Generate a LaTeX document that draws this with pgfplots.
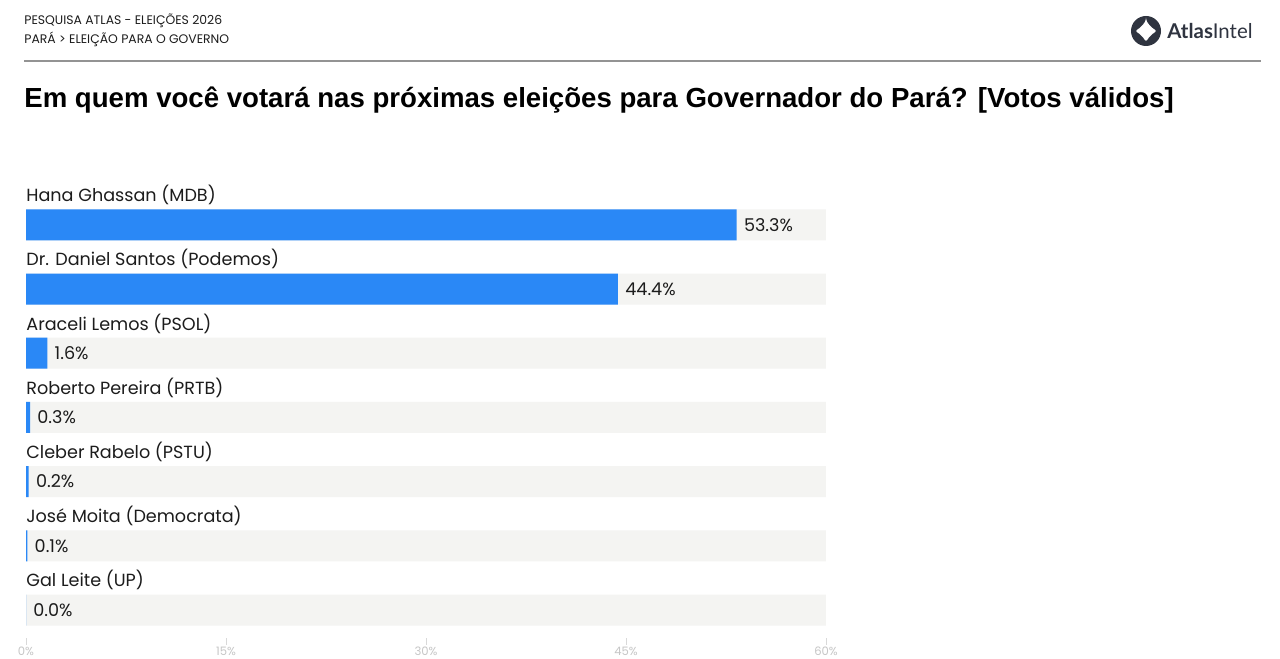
\documentclass[border=0pt]{standalone}
\usepackage{fontspec}
\setmainfont{Poppins}
\newfontfamily\titlefont{Liberation Sans}
\newfontfamily\logofont{Lato}
\usepackage{pgfplots}
\pgfplotsset{compat=1.18}
\usepackage{pgfplotstable}
\definecolor{barblue}{HTML}{2A88F6}
\definecolor{bggray}{HTML}{F4F4F2}
\definecolor{logodark}{HTML}{2F3440}
\definecolor{txt}{HTML}{1C1C1C}
\pgfplotstableread[col sep=comma]{
y,v,name
6,53.3,Hana Ghassan (MDB)
5,44.4,Dr. Daniel Santos (Podemos)
4,1.6,Araceli Lemos (PSOL)
3,0.3,Roberto Pereira (PRTB)
2,0.2,Cleber Rabelo (PSTU)
1,0.1,José Moita (Democrata)
0,0.0,Gal Leite (UP)
}\data
\begin{document}
\begin{tikzpicture}[x=0.5pt,y=0.5pt]
\fill[white] (0,0) rectangle (1280,658);
% header
\node[anchor=west,inner sep=0,text=txt,font=\fontsize{6.2pt}{7pt}\selectfont] at (24,637) {PESQUISA ATLAS - ELEIÇÕES 2026};
\node[anchor=west,inner sep=0,text=txt,font=\fontsize{6.2pt}{7pt}\selectfont] at (24,619) {PARÁ > ELEIÇÃO PARA O GOVERNO};
\draw[color=gray!85,line width=0.6pt] (24,597) -- (1261,597);
% logo
\fill[logodark] (1146,627) circle (15);
\fill[white,rounded corners=1.2pt] (1146,638) .. controls (1148.7,633.3) and (1152.3,629.7) .. (1157,627)
  .. controls (1152.3,624.3) and (1148.7,620.7) .. (1146,616)
  .. controls (1143.3,620.7) and (1139.7,624.3) .. (1135,627)
  .. controls (1139.7,629.7) and (1143.3,633.3) .. cycle;
\node[anchor=west,inner sep=0,text=logodark,font=\logofont\fontsize{10.2pt}{11pt}\selectfont] at (1167,627) {{\bfseries Atlas}Intel};
% title
\node[anchor=west,inner sep=0,text=black,font=\titlefont\bfseries\fontsize{13.8pt}{15pt}\selectfont] at (24,558) {Em quem você votará nas próximas eleições para Governador do Pará? [Votos válidos]};
\begin{axis}[
  at={(13pt,10pt)}, anchor=south west,
  scale only axis, width=400pt, height=222.65pt,
  xmin=0, xmax=60, ymin=-0.436, ymax=6.5,
  axis line style={draw=none},
  xtick={0,15,30,45,60},
  xticklabel={\pgfmathprintnumber{\tick}\%},
  ytick=\empty,
  xtick pos=bottom, tick align=outside,
  major tick length=3.5pt,
  tick style={draw=gray!30, line width=0.4pt},
  /pgf/number format/assume math mode=true,
  x tick label style={font=\fontsize{5.8pt}{6pt}\selectfont, text=gray!45, inner sep=1pt},
  clip=false,
  bar width=15.5pt,
]
\addplot[xbar, bar shift=0pt, fill=bggray, draw=none] table[x expr=60, y=y] {\data};
\addplot[xbar, bar shift=0pt, fill=barblue, draw=none,
  point meta=x,
  nodes near coords={\pgfmathprintnumber[fixed,fixed zerofill,precision=1]{\pgfplotspointmeta}\%},
  nodes near coords style={anchor=west, inner sep=0pt, xshift=3.5pt, text=txt, font=\fontsize{8.8pt}{9pt}\selectfont, /pgf/number format/assume math mode=true}]
  table[x=v, y=y] {\data};
\addplot[draw=none, mark=none, point meta=explicit symbolic,
  nodes near coords,
  nodes near coords style={anchor=west, inner sep=0pt, yshift=14.8pt, text=txt, font=\fontsize{8.8pt}{10pt}\selectfont}]
  table[x expr=0, y=y, meta=name] {\data};
\end{axis}
\end{tikzpicture}
\end{document}
